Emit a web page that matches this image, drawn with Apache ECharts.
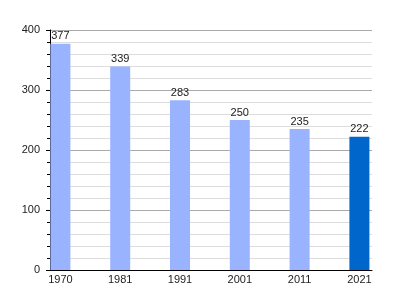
<!DOCTYPE html>
<html><head><meta charset="utf-8">
<script src="https://cdn.jsdelivr.net/npm/echarts@6/dist/echarts.min.js"></script>
<style>html,body{margin:0;padding:0;background:#fff}#c{width:400px;height:300px}</style>
</head><body><div id="c"></div>
<script>
const categories = ['1970','1981','1991','2001','2011','2021'];
const values = [377, 339, 283, 250, 235, 222];
const yTicks = [0, 100, 200, 300, 400];
const lightColor = '#99b3ff';
const darkColor = '#0066cc';

const chart = echarts.init(document.getElementById('c'), null, {renderer:'canvas'});
const font = 'Liberation Sans, Arial, sans-serif';
chart.setOption({
  animation: false,
  backgroundColor: '#fff',
  grid: [
    {left: 50, right: 28, top: 30, bottom: 30},
    {left: 30.5, right: 10.7, top: 30, bottom: 30}
  ],
  xAxis: [
    {gridIndex: 0, type: 'value', min: 0, max: 1, axisLine: {show: true, onZero: false, lineStyle: {color: '#000', width: 1}},
     axisTick: {show: false}, axisLabel: {show: false}, splitLine: {show: false}},
    {gridIndex: 1, type: 'category', data: categories, axisLine: {show: false}, axisTick: {show: false},
     axisLabel: {color: '#222', fontSize: 11, fontFamily: font, margin: 4}}
  ],
  yAxis: [
    {gridIndex: 0, type: 'value', min: yTicks[0], max: yTicks[yTicks.length-1], interval: 100,
     axisLine: {show: true, lineStyle: {color: '#000', width: 1}},
     axisTick: {show: true, length: 4, lineStyle: {color: '#000'}},
     minorTick: {show: true, splitNumber: 5, length: 3, lineStyle: {color: '#000'}},
     axisLabel: {color: '#222', fontSize: 11, fontFamily: font, margin: 10},
     splitLine: {show: true, lineStyle: {color: '#aaaaaa', width: 1}},
     minorSplitLine: {show: true, lineStyle: {color: '#dddddd', width: 1}}},
    {gridIndex: 1, type: 'value', min: yTicks[0], max: yTicks[yTicks.length-1], show: false}
  ],
  series: [{
    type: 'bar', xAxisIndex: 1, yAxisIndex: 1, barWidth: 20, z: 3,
    data: values.map((v, i) => ({value: v, itemStyle: {color: i === values.length - 1 ? darkColor : lightColor}})),
    label: {show: true, position: 'top', distance: 2, color: '#222', fontSize: 11, fontFamily: font}
  }]
});
</script></body></html>
